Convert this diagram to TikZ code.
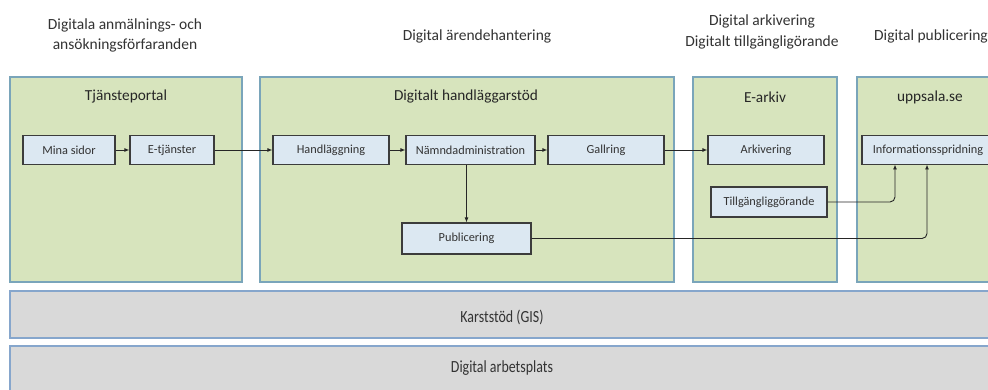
\documentclass[tikz,border=0pt]{standalone}
\usepackage{fontspec}
\setmainfont{Carlito}
\usetikzlibrary{arrows.meta}
\definecolor{panelfill}{HTML}{D7E4BD}
\definecolor{panelline}{HTML}{7AA5BA}
\definecolor{boxfill}{HTML}{DCE8F2}
\definecolor{boxline}{HTML}{3C3C3C}
\definecolor{barfill}{HTML}{D9D9D9}
\definecolor{barline}{HTML}{86A6CC}
\definecolor{txt}{HTML}{333333}
\tikzset{
  panel/.style={draw=panelline, fill=panelfill, line width=1.3pt, inner sep=0pt},
  stepbox/.style={draw=boxline, fill=boxfill, line width=1.2pt, minimum height=29pt, inner sep=0pt, font=\fontsize{12.3}{14}\selectfont, text=txt},
  bar/.style={draw=barline, fill=barfill, line width=1.3pt, inner sep=0pt, text=txt},
  bartext/.style={font=\fontsize{17}{19}\selectfont\addfontfeatures{FakeStretch=0.82}, text=txt},
  header/.style={font=\fontsize{15.5}{20.5}\selectfont, text=txt, align=center},
  ptitle/.style={font=\fontsize{15.3}{17}\selectfont, text=black!85},
  conn/.style={draw=black!85, line width=0.9pt, -{Latex[length=5pt,width=4pt]}},
}
\begin{document}
\begin{tikzpicture}[x=1pt,y=-1pt]
\useasboundingbox (0,0) rectangle (988,390);
\clip (0,0) rectangle (988,390);
\fill[white] (0,0) rectangle (988,390);
% headers
\node[header] (h1) at (125,35.5) {Digitala anmälnings- och\\ansökningsförfaranden};
\node[header] (h2) at (477,36) {Digital ärendehantering};
\node[header] (h3) at (762,32) {Digital arkivering\\Digitalt tillgängligörande};
\node[header] (h4) at (931,36) {Digital publicering};
% panels
\node[panel, minimum width=232, minimum height=205] (p1) at (126,179.5) {};
\node[panel, minimum width=414, minimum height=205] (p2) at (467,179.5) {};
\node[panel, minimum width=144, minimum height=205] (p3) at (765,179.5) {};
\node[panel, minimum width=150, minimum height=205] (p4) at (932,179.5) {};
\node[ptitle] (t1) at (126,97) {Tjänsteportal};
\node[ptitle] (t2) at (466,97) {Digitalt handläggarstöd};
\node[ptitle] (t3) at (765,97) {E-arkiv};
\node[ptitle] (t4) at (930,97) {uppsala.se};
% step boxes
\node[stepbox, minimum width=92] (mina) at (69,150) {Mina sidor};
\node[stepbox, minimum width=84] (etj) at (172,150) {E-tjänster};
\node[stepbox, minimum width=116] (hand) at (331,150) {Handläggning};
\node[stepbox, minimum width=129] (namnd) at (470.5,150) {Nämndadministration};
\node[stepbox, minimum width=116] (gall) at (606,150) {Gallring};
\node[stepbox, minimum width=116] (ark) at (766,150) {Arkivering};
\node[stepbox, minimum width=132] (info) at (928,150) {Informationsspridning};
\node[stepbox, minimum width=129, minimum height=31] (pub) at (466.5,238.5) {Publicering};
\node[stepbox, minimum width=116, minimum height=30] (till) at (769,202) {Tillgängliggörande};
% connectors
\draw[conn] (mina) -- (etj);
\draw[conn] (etj) -- (hand);
\draw[conn] (hand) -- (namnd);
\draw[conn] (namnd) -- (gall);
\draw[conn] (gall) -- (ark);
\draw[conn] (namnd.south -| pub.north) -- (pub.north);
\coordinate (ia) at (895,164.5);
\coordinate (ib) at (927,164.5);
\draw[conn, rounded corners=5pt] (till.east) -| (ia);
\draw[conn, rounded corners=5pt] (pub.east) -| (ib);
% bars
\node[bar, minimum width=984, minimum height=47] (gis) at (502,314.5) {};
\node[bartext] (gist) at (502,317) {Karststöd (GIS)};
\node[bar, minimum width=984, minimum height=54] (arb) at (502,373) {};
\node[bartext] (arbt) at (502,368) {Digital arbetsplats};
\end{tikzpicture}
\end{document}
